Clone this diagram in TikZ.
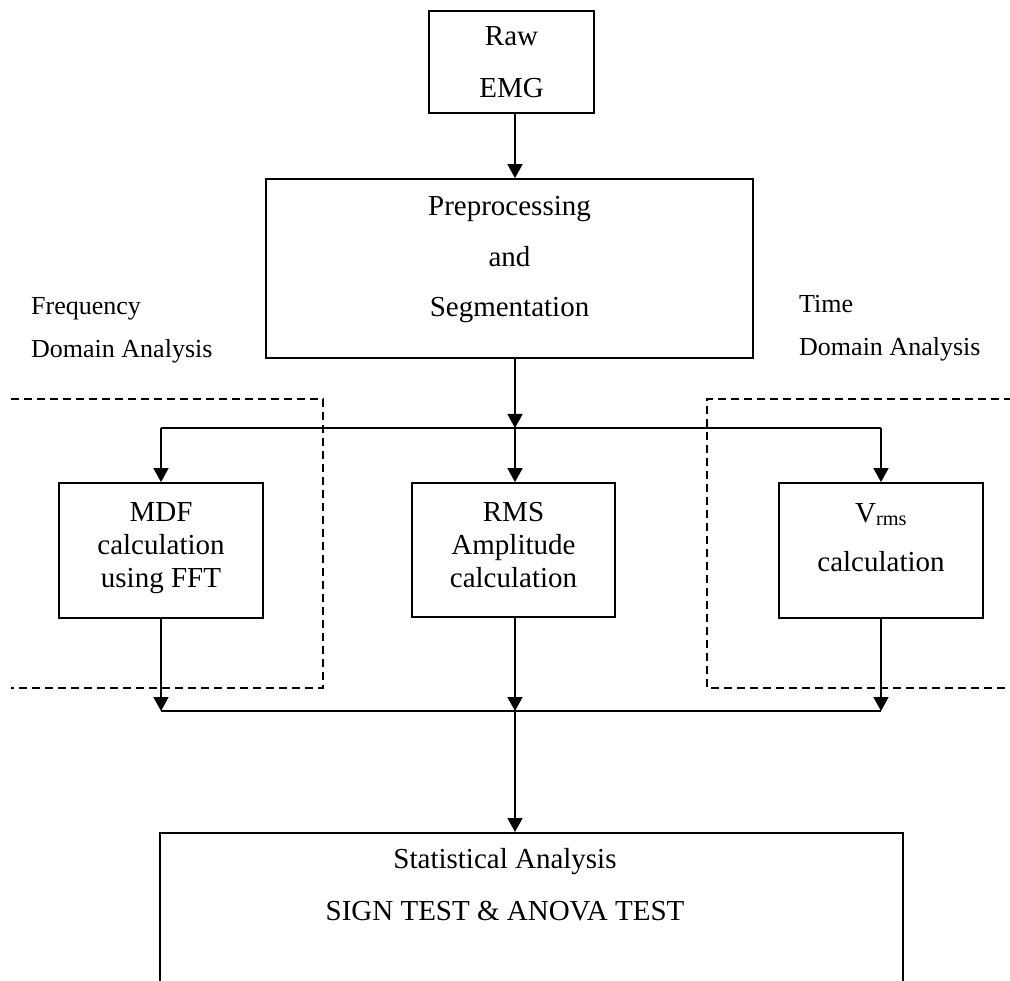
\documentclass[tikz,border=0pt]{standalone}
\usepackage{fontspec}
\setmainfont{Liberation Serif}
\usetikzlibrary{arrows.meta, positioning, calc}

\newcommand{\boxfont}[1]{\fontsize{29}{#1}\selectfont}
\newcommand{\lblfont}{\fontsize{26}{43}\selectfont}

\begin{document}
\begin{tikzpicture}[
    x=1pt,
    y=-1pt,
    >={Triangle[length=14pt, width=15pt]},
    box/.style={
        rectangle,
        draw=black,
        line width=1.8pt,
        inner sep=0pt,
        align=center,
        font=\boxfont{33}
    },
    lbl/.style={
        anchor=north west,
        inner sep=0pt,
        align=left,
        font=\lblfont
    },
    link/.style={
        line width=1.6pt
    },
    region/.style={
        dash pattern=on 8pt off 5pt,
        line width=1.5pt
    }
]

\useasboundingbox (0,0) rectangle (1010,981);
\clip (0,0) rectangle (1010,981);

% Main pipeline
\node[box, minimum width=165pt, minimum height=102pt, font=\boxfont{52}] (raw) at (511.5,62) {Raw\\EMG};

\node[box, minimum width=487pt, minimum height=179pt, text depth=24pt, font=\boxfont{50.5}] (prep) at (509.5,268.5) {Preprocessing\\and\\Segmentation};

% Feature boxes
\node[box, minimum width=204pt, minimum height=135pt, text depth=10pt] (mdf) at (161,550.5) {MDF\\calculation\\using FFT};
\node[box, minimum width=203pt, minimum height=134pt, text depth=10pt] (rms) at (513.5,550) {RMS\\Amplitude\\calculation};
\node[box, minimum width=204pt, minimum height=135pt, text depth=26pt, font=\boxfont{49.5}] (vrms) at (881,550.5) {V\textsubscript{rms}\\calculation};

% Statistics box (runs off the page)
\node[box, minimum width=743pt, minimum height=200pt, anchor=north] (stats) at (531.5,832) {};
\node[lbl, anchor=north, align=center, font=\boxfont{52}] (stattext) at (505,848) {Statistical Analysis\\SIGN TEST \& ANOVA TEST};

% Domain labels
\node[lbl] (freqlbl) at (31,297) {Frequency\\Domain Analysis};
\node[lbl] (timelbl) at (799,295) {Time\\Domain Analysis};

% Dashed domain regions
\draw[region] (11,399) -| (323,688) -- (11,688);
\draw[region] (1012,399) -| (707,688) -- (1012,688);

% Split and join points
\coordinate (split) at (515,428);
\coordinate (join) at (515,711);

\draw[link, ->] (split |- raw.south) -- (split |- prep.north);
\draw[link, ->] (split |- prep.south) -- (split);
\draw[link] (mdf.north |- split) -- (vrms.north |- split);

\draw[link, ->] (mdf.north |- split) -- (mdf.north);
\draw[link, ->] (split) -- (split |- rms.north);
\draw[link, ->] (vrms.north |- split) -- (vrms.north);

\draw[link, ->] (mdf.south) -- (mdf.south |- join);
\draw[link, ->] (split |- rms.south) -- (join);
\draw[link, ->] (vrms.south) -- (vrms.south |- join);
\draw[link] (mdf.south |- join) -- (vrms.south |- join);

\draw[link, ->] (join) -- (join |- stats.north);

\end{tikzpicture}
\end{document}
